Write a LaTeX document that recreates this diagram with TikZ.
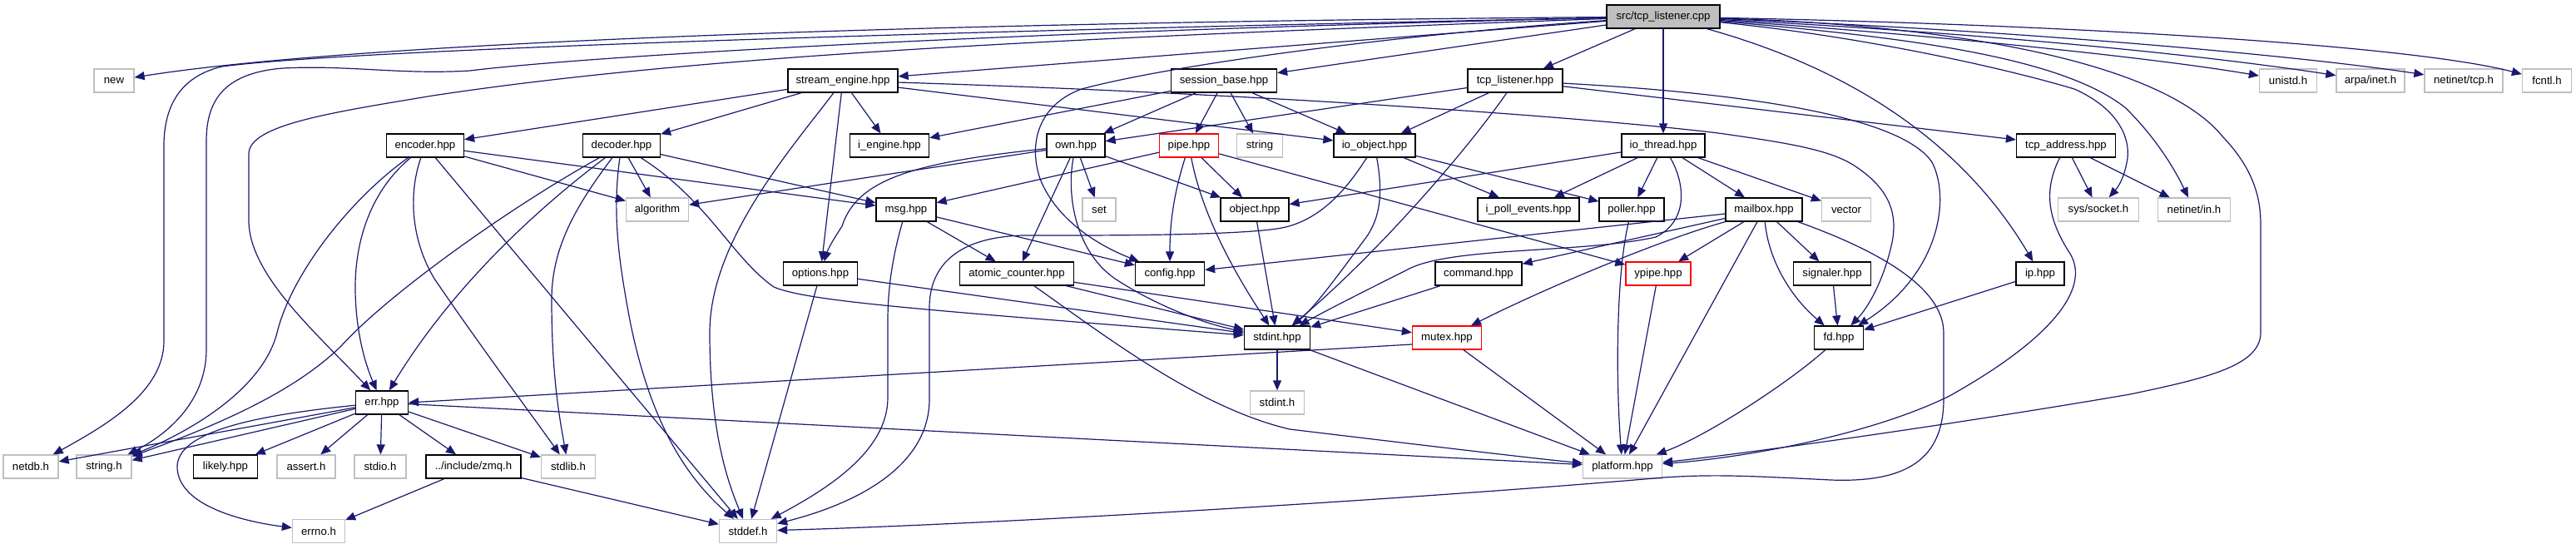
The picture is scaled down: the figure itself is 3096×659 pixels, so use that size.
\documentclass[tikz,border=0pt]{standalone}
\usepackage{fontspec}
\setmainfont{Liberation Sans}
\usetikzlibrary{arrows.meta,calc}
\definecolor{edgec}{HTML}{191970}
\definecolor{grayb}{HTML}{BFBFBF}
\begin{document}
\begin{tikzpicture}[x=0.5pt,y=-0.5pt,
 box/.style={rectangle, line width=0.65pt, minimum height=14pt, inner sep=0pt, font=\fontsize{6.6pt}{8pt}\selectfont, fill=white},
 nb/.style={box, draw=black},
 gb/.style={box, draw=grayb},
 rb/.style={box, draw=red},
 rootb/.style={box, draw=black, fill=grayb},
 ar/.style={draw=edgec, line width=0.6pt, -{Triangle[length=6pt,width=5pt]}}]
\useasboundingbox (0,0) rectangle (3096,659);
% row 0
\node[rootb, minimum width=68pt] (src) at (1999,20) {src/tcp\_listener.cpp};
% row 1
\node[gb, minimum width=24pt] (new) at (137,97) {new};
\node[nb, minimum width=66pt] (se) at (1013,97) {stream\_engine.hpp};
\node[nb, minimum width=63.5pt] (sb) at (1471,97) {session\_base.hpp};
\node[nb, minimum width=57pt] (tl) at (1821,97) {tcp\_listener.hpp};
\node[gb, minimum width=34.5pt] (unistd) at (2750,97) {unistd.h};
\node[gb, minimum width=41pt] (arpa) at (2849,97) {arpa/inet.h};
\node[gb, minimum width=47pt] (ntcp) at (2961,97) {netinet/tcp.h};
\node[gb, minimum width=29.5pt] (fcntl) at (3061,97) {fcntl.h};
% row 2
\node[nb, minimum width=46.5pt] (enc) at (511,175) {encoder.hpp};
\node[nb, minimum width=46.5pt] (dec) at (747,175) {decoder.hpp};
\node[nb, minimum width=47.5pt] (ieng) at (1069,175) {i\_engine.hpp};
\node[nb, minimum width=35pt] (own) at (1293,175) {own.hpp};
\node[rb, minimum width=35.5pt] (pipe) at (1429,175) {pipe.hpp};
\node[gb, minimum width=27.5pt] (string) at (1514,175) {string};
\node[nb, minimum width=49pt] (ioobj) at (1652,175) {io\_object.hpp};
\node[nb, minimum width=50pt] (iot) at (1999,175) {io\_thread.hpp};
\node[nb, minimum width=59.5pt] (tcpaddr) at (2483,175) {tcp\_address.hpp};
% row 3
\node[gb, minimum width=37.5pt] (algo) at (790,252) {algorithm};
\node[nb, minimum width=36pt] (msg) at (1089,252) {msg.hpp};
\node[gb, minimum width=20pt] (set) at (1321,252) {set};
\node[nb, minimum width=41pt] (object) at (1508,252) {object.hpp};
\node[nb, minimum width=61pt] (ipe) at (1837,252) {i\_poll\_events.hpp};
\node[nb, minimum width=39pt] (poller) at (1961,252) {poller.hpp};
\node[nb, minimum width=46pt] (mailbox) at (2120,252) {mailbox.hpp};
\node[gb, minimum width=29.5pt] (vector) at (2219,252) {vector};
\node[gb, minimum width=48.5pt] (syssock) at (2522,252) {sys/socket.h};
\node[gb, minimum width=43.5pt] (nin) at (2637,252) {netinet/in.h};
% row 4
\node[nb, minimum width=44.5pt] (opt) at (986,329) {options.hpp};
\node[nb, minimum width=68.5pt] (atomic) at (1222,329) {atomic\_counter.hpp};
\node[nb, minimum width=41.5pt] (config) at (1406,329) {config.hpp};
\node[nb, minimum width=52pt] (command) at (1777,329) {command.hpp};
\node[rb, minimum width=39pt] (ypipe) at (1993,329) {ypipe.hpp};
\node[nb, minimum width=46.5pt] (signaler) at (2202,329) {signaler.hpp};
\node[nb, minimum width=29pt] (ip) at (2452,329) {ip.hpp};
% row 5
\node[nb, minimum width=39.5pt] (sthpp) at (1535,406) {stdint.hpp};
\node[rb, minimum width=41.5pt] (mutex) at (1739,406) {mutex.hpp};
\node[nb, minimum width=29.5pt] (fd) at (2210,406) {fd.hpp};
% row 6
\node[gb, minimum width=32.5pt] (sth) at (1535,484) {stdint.h};
\node[nb, minimum width=31.5pt] (err) at (459,484) {err.hpp};
% row 7
\node[gb, minimum width=33pt] (netdb) at (37,561) {netdb.h};
\node[gb, minimum width=33pt] (stringh) at (125,561) {string.h};
\node[nb, minimum width=38.5pt] (likely) at (271,561) {likely.hpp};
\node[gb, minimum width=35pt] (assert) at (368,561) {assert.h};
\node[gb, minimum width=31pt] (stdio) at (457,561) {stdio.h};
\node[nb, minimum width=57pt] (zmq) at (569,561) {../include/zmq.h};
\node[gb, minimum width=32.5pt] (stdlib) at (683,561) {stdlib.h};
\node[gb, minimum width=47.5pt] (platform) at (1950,561) {platform.hpp};
% row 8
\node[gb, minimum width=31.5pt] (errno) at (383,638.5) {errno.h};
\node[gb, minimum width=34.5pt] (stddef) at (899,638.5) {stddef.h};

% ---- edges from src
\draw[ar] (src) .. controls (1000,28) and (400,55) .. (new);
\draw[ar] (src) .. controls (1000,40) and (400,62) .. (267,80) .. controls (215,92) and (197,130) .. (197,175) -- (197,410) .. controls (197,470) and (130,510) .. (netdb);
\draw[ar] (src) .. controls (1200,38) and (700,68) .. (565,85) .. controls (480,90) and (420,78) .. (340,82) .. controls (265,88) and (248,125) .. (248,170) -- (248,420) .. controls (248,480) and (205,520) .. (stringh);
\draw[ar] (src) .. controls (1300,45) and (850,65) .. (520,115) .. controls (400,135) and (299,150) .. (299,185) -- (299,265) .. controls (299,330) and (380,400) .. (err);
\draw[ar] (src) -- (se);
\draw[ar] (src) -- (sb);
\draw[ar] (src) -- (tl);
\draw[ar] (src) -- (iot);
\draw[ar] (src) .. controls (1700,40) and (1420,75) .. (1300,107) .. controls (1250,125) and (1235,170) .. (1250,215) .. controls (1270,265) and (1320,295) .. (config);
\draw[ar] (src) .. controls (2500,30) and (2900,55) .. (fcntl);
\draw[ar] (src) .. controls (2400,35) and (2750,65) .. (ntcp);
\draw[ar] (src) .. controls (2350,38) and (2620,62) .. (arpa);
\draw[ar] (src) .. controls (2300,40) and (2580,68) .. (unistd);
\draw[ar] (src) .. controls (2250,45) and (2420,85) .. (2493,107) .. controls (2545,130) and (2560,165) .. (2557,190) .. controls (2554,210) and (2548,222) .. (syssock);
\draw[ar] (src) .. controls (2300,45) and (2480,70) .. (2555,130) .. controls (2590,165) and (2612,200) .. (nin);
\draw[ar] (src) .. controls (2350,30) and (2600,75) .. (2672,165) .. controls (2710,205) and (2717,240) .. (2717,270) -- (2717,400) .. controls (2717,440) and (2650,455) .. (2560,474) .. controls (2350,510) and (2100,545) .. (platform);
\draw[ar] (src) .. controls (2250,90) and (2370,190) .. (ip);

% ---- stream_engine
\draw[ar] (se) -- (enc);
\draw[ar] (se) -- (dec);
\draw[ar] (se) -- (ieng);
\draw[ar] (se) -- (opt);
\draw[ar] (se) .. controls (950,180) and (853,290) .. (853,400) .. controls (853,520) and (875,580) .. (stddef);
\draw[ar] (se) -- (ioobj);
\draw[ar] (se) .. controls (1500,112) and (1900,140) .. (2065,160) .. controls (2150,172) and (2200,180) .. (2230,200) .. controls (2275,230) and (2282,262) .. (2272,300) .. controls (2262,340) and (2245,370) .. (fd);

% ---- session_base
\draw[ar] (sb) -- (ieng);
\draw[ar] (sb) -- (own);
\draw[ar] (sb) -- (pipe);
\draw[ar] (sb) -- (string);
\draw[ar] (sb) -- (ioobj);

% ---- tcp_listener.hpp
\draw[ar] (tl) -- (own);
\draw[ar] (tl) -- (ioobj);
\draw[ar] (tl) .. controls (1760,185) and (1650,310) .. (sthpp);
\draw[ar] (tl) .. controls (2100,112) and (2285,140) .. (2322,195) .. controls (2345,240) and (2330,330) .. (fd);
\draw[ar] (tl) -- (tcpaddr);

% ---- io_thread
\draw[ar] (iot) -- (object);
\draw[ar] (iot) -- (ipe);
\draw[ar] (iot) -- (poller);
\draw[ar] (iot) -- (vector);
\draw[ar] (iot) -- (mailbox);
\draw[ar] (iot) .. controls (2025,220) and (2030,265) .. (1990,285) .. controls (1900,305) and (1740,296) .. (1690,325) .. controls (1650,345) and (1600,370) .. (sthpp);

% ---- encoder
\draw[ar] (enc) .. controls (420,240) and (350,330) .. (333,400) .. controls (315,470) and (225,520) .. (stringh);
\draw[ar] (enc) .. controls (445,230) and (427,290) .. (427,345) .. controls (427,400) and (440,440) .. (err);
\draw[ar] (enc) .. controls (490,235) and (495,290) .. (522,335) .. controls (580,420) and (640,500) .. (stdlib);
\draw[ar] (enc) -- (stddef);
\draw[ar] (enc) -- (algo);
\draw[ar] (enc) -- (msg);

% ---- decoder
\draw[ar] (dec) .. controls (620,245) and (470,350) .. (410,416) .. controls (350,475) and (250,515) .. (stringh);
\draw[ar] (dec) .. controls (640,255) and (540,350) .. (err);
\draw[ar] (dec) .. controls (690,250) and (663,300) .. (663,360) .. controls (663,450) and (672,500) .. (stdlib);
\draw[ar] (dec) .. controls (735,260) and (745,320) .. (757,385) .. controls (780,500) and (820,570) .. (stddef);
\draw[ar] (dec) -- (algo);
\draw[ar] (dec) .. controls (850,240) and (880,310) .. (930,345) .. controls (970,362) and (1100,372) .. (sthpp);
\draw[ar] (dec) -- (msg);

% ---- err
\draw[ar] (err) -- (netdb);
\draw[ar] (err) -- (stringh);
\draw[ar] (err) -- (likely);
\draw[ar] (err) -- (assert);
\draw[ar] (err) -- (stdio);
\draw[ar] (err) -- (zmq);
\draw[ar] (err) -- (stdlib);
\draw[ar] (err) -- (platform);
\draw[ar] (err) .. controls (300,500) and (215,520) .. (213,560) .. controls (212,610) and (300,628) .. (errno);

% ---- zmq
\draw[ar] (zmq) -- (errno);
\draw[ar] (zmq) -- (stddef);

% ---- options
\draw[ar] (opt) -- (sthpp);
\draw[ar] (opt) -- (stddef);

% ---- own
\draw[ar] (own) -- (algo);
\draw[ar] (own) .. controls (1100,195) and (1030,215) .. (1012,272) .. controls (1000,290) and (995,300) .. (opt);
\draw[ar] (own) -- (set);
\draw[ar] (own) -- (object);
\draw[ar] (own) -- (atomic);
\draw[ar] (own) .. controls (1282,230) and (1290,300) .. (1340,335) .. controls (1390,368) and (1450,390) .. (sthpp);

% ---- pipe
\draw[ar] (pipe) -- (msg);
\draw[ar] (pipe) .. controls (1410,235) and (1406,270) .. (config);
\draw[ar] (pipe) -- (object);
\draw[ar] (pipe) .. controls (1445,260) and (1485,330) .. (sthpp);
\draw[ar] (pipe) -- (ypipe);

% ---- msg
\draw[ar] (msg) .. controls (1075,300) and (1067,340) .. (1067,385) -- (1067,478) .. controls (1067,540) and (1000,585) .. (stddef);
\draw[ar] (msg) -- (atomic);
\draw[ar] (msg) -- (config);

% ---- io_object
\draw[ar] (ioobj) -- (ipe);
\draw[ar] (ioobj) -- (poller);
\draw[ar] (ioobj) .. controls (1662,230) and (1660,262) .. (1640,288) .. controls (1610,328) and (1580,370) .. (sthpp);
\draw[ar] (ioobj) .. controls (1620,225) and (1590,262) .. (1545,273) .. controls (1500,284) and (1300,283) .. (1230,283) .. controls (1150,285) and (1117,320) .. (1117,370) -- (1117,480) .. controls (1117,550) and (1050,600) .. (stddef);

% ---- object
\draw[ar] (object) -- (sthpp);

% ---- atomic_counter
\draw[ar] (atomic) -- (sthpp);
\draw[ar] (atomic) -- (mutex);
\draw[ar] (atomic) .. controls (1330,405) and (1440,490) .. (1550,516) .. controls (1700,534) and (1850,552) .. (platform);

% ---- others
\draw[ar] (command) -- (sthpp);
\draw[ar] (ypipe) -- (platform);
\draw[ar] (signaler) -- (fd);
\draw[ar] (ip) -- (fd);
\draw[ar] (fd) .. controls (2150,460) and (2050,525) .. (platform);
\draw[ar] (poller) .. controls (1942,330) and (1942,460) .. (platform);
\draw[ar] (mutex) -- (platform);
\draw[ar] ($(mutex.west)+(0,8)$) -- (err.east);
\draw[ar] (sthpp) -- (sth);
\draw[ar] (sthpp) -- (platform);

% ---- mailbox
\draw[ar] (mailbox) -- (config);
\draw[ar] (mailbox) -- (command);
\draw[ar] (mailbox.south west) .. controls (1990,290) and (1850,350) .. (mutex);
\draw[ar] (mailbox) -- (ypipe);
\draw[ar] (mailbox) -- (platform);
\draw[ar] (mailbox) .. controls (2125,310) and (2150,355) .. (fd);
\draw[ar] (mailbox) -- (signaler);
\draw[ar] (mailbox) .. controls (2240,295) and (2336,340) .. (2336,400) -- (2336,480) .. controls (2336,560) and (2280,580) .. (2200,577) .. controls (2100,572) and (2060,570) .. (2000,574) .. controls (1700,600) and (1200,630) .. (stddef);

% ---- tcp_address
\draw[ar] (tcpaddr) -- (syssock);
\draw[ar] (tcpaddr) -- (nin);
\draw[ar] (tcpaddr) .. controls (2455,230) and (2462,265) .. (2488,305) .. controls (2512,345) and (2470,405) .. (2343,476) .. controls (2250,522) and (2100,550) .. (platform);
\end{tikzpicture}
\end{document}
